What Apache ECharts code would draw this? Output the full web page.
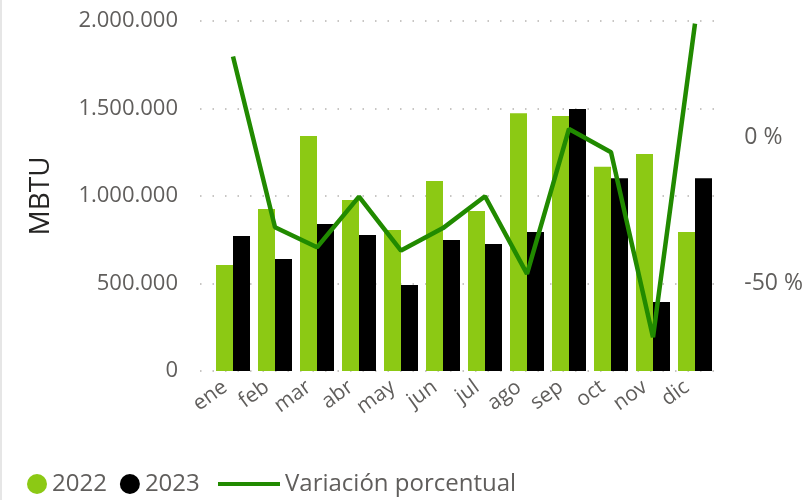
<!DOCTYPE html>
<html>
<head>
<meta charset="utf-8">
<script src="https://cdn.jsdelivr.net/npm/echarts@6/dist/echarts.min.js"></script>
<style>
  html, body { margin: 0; padding: 0; background: #fff; }
  #chart { width: 806px; height: 500px; }
</style>
</head>
<body>
<div id="chart"></div>
<script>
// datos
const months = ["ene", "feb", "mar", "abr", "may", "jun", "jul", "ago", "sep", "oct", "nov", "dic"];
const values2022 = [606000, 926000, 1343000, 977000, 806000, 1086000, 914000, 1473000, 1457000, 1167000, 1240000, 794000];
const values2023 = [771000, 640000, 840000, 777000, 491000, 749000, 726000, 794000, 1497000, 1101000, 394000, 1101000];
const variation = [27.8, -30.7, -37.6, -20.2, -38.7, -31.0, -20.1, -46.7, 3.0, -5.0, -68.4, 39.1];
const pctLabels = [0, -50];

const FONT = "'Segoe UI', 'Open Sans', sans-serif";
const GRAY = "#605E5C";
const GREEN = "#8CC914";
const LINE = "#218A00";

const chart = echarts.init(document.getElementById("chart"));

// formato 2.000.000
function fmtThousands(v) {
  return String(v).replace(/\B(?=(\d{3})+(?!\d))/g, ".");
}

const option = {
  animation: false,
  textStyle: { fontFamily: FONT },
  // grid 0: ejes visibles y líneas de cuadrícula, grid 1: las series
  grid: [
    { left: 200, right: 77, top: 21, bottom: 129 },
    { left: 212, right: 90, top: 21, bottom: 129 },
  ],
  legend: [
    {
      left: 22,
      top: 467,
      itemWidth: 20,
      itemHeight: 20,
      itemGap: 13,
      icon: "circle",
      data: ["2022", "2023"],
      textStyle: { color: GRAY, fontSize: 24, fontFamily: FONT },
    },
    {
      left: 213,
      top: 467,
      itemWidth: 62,
      itemHeight: 4,
      data: [{ name: "Variación porcentual", icon: "rect" }],
      textStyle: { color: GRAY, fontSize: 24, fontFamily: FONT },
    },
  ],
  xAxis: [
    { type: "category", gridIndex: 0, data: months, show: false },
    {
      type: "category",
      gridIndex: 1,
      data: months,
      axisLine: { show: false },
      axisTick: { show: false },
      axisLabel: {
        color: GRAY,
        fontSize: 21,
        rotate: 36,
        margin: 8,
        interval: 0,
        padding: [0, 10, 0, 0],
        fontFamily: FONT,
      },
    },
  ],
  yAxis: [
    {
      type: "value",
      gridIndex: 0,
      min: 0,
      max: 2000000,
      interval: 500000,
      name: "MBTU",
      nameLocation: "middle",
      nameGap: 145,
      nameTextStyle: { color: "#252423", fontSize: 28, fontFamily: FONT },
      axisLine: { show: false },
      axisTick: { show: false },
      axisLabel: { color: GRAY, fontSize: 22, margin: 22, formatter: fmtThousands },
      splitLine: { lineStyle: { color: "#C8C6C4", width: 2, type: [1.5, 11] } },
    },
    {
      type: "value",
      gridIndex: 0,
      position: "right",
      min: -80,
      max: 40,
      interval: 10,
      axisLine: { show: false },
      axisTick: { show: false },
      splitLine: { show: false },
      axisLabel: {
        color: GRAY,
        fontSize: 23,
        margin: 22,
        formatter: (v) => (pctLabels.indexOf(v) >= 0 ? v + " %" : ""),
      },
    },
    { type: "value", gridIndex: 1, min: 0, max: 2000000, show: false },
    { type: "value", gridIndex: 1, min: -80, max: 40, show: false },
  ],
  series: [
    {
      name: "2022",
      type: "bar",
      xAxisIndex: 1,
      yAxisIndex: 2,
      data: values2022,
      barWidth: 17,
      barGap: "0%",
      itemStyle: { color: GREEN },
    },
    {
      name: "2023",
      type: "bar",
      xAxisIndex: 1,
      yAxisIndex: 2,
      data: values2023,
      barWidth: 17,
      barGap: "0%",
      itemStyle: { color: "#000000" },
    },
    {
      name: "Variación porcentual",
      type: "line",
      xAxisIndex: 1,
      yAxisIndex: 3,
      data: variation,
      symbol: "none",
      lineStyle: { color: LINE, width: 4.5 },
      itemStyle: { color: LINE },
      z: 5,
    },
  ],
  graphic: [
    {
      type: "rect",
      left: 0,
      top: 0,
      shape: { width: 2, height: 500 },
      style: { fill: "#E6E6E6" },
    },
  ],
};

chart.setOption(option);
</script>
</body>
</html>
